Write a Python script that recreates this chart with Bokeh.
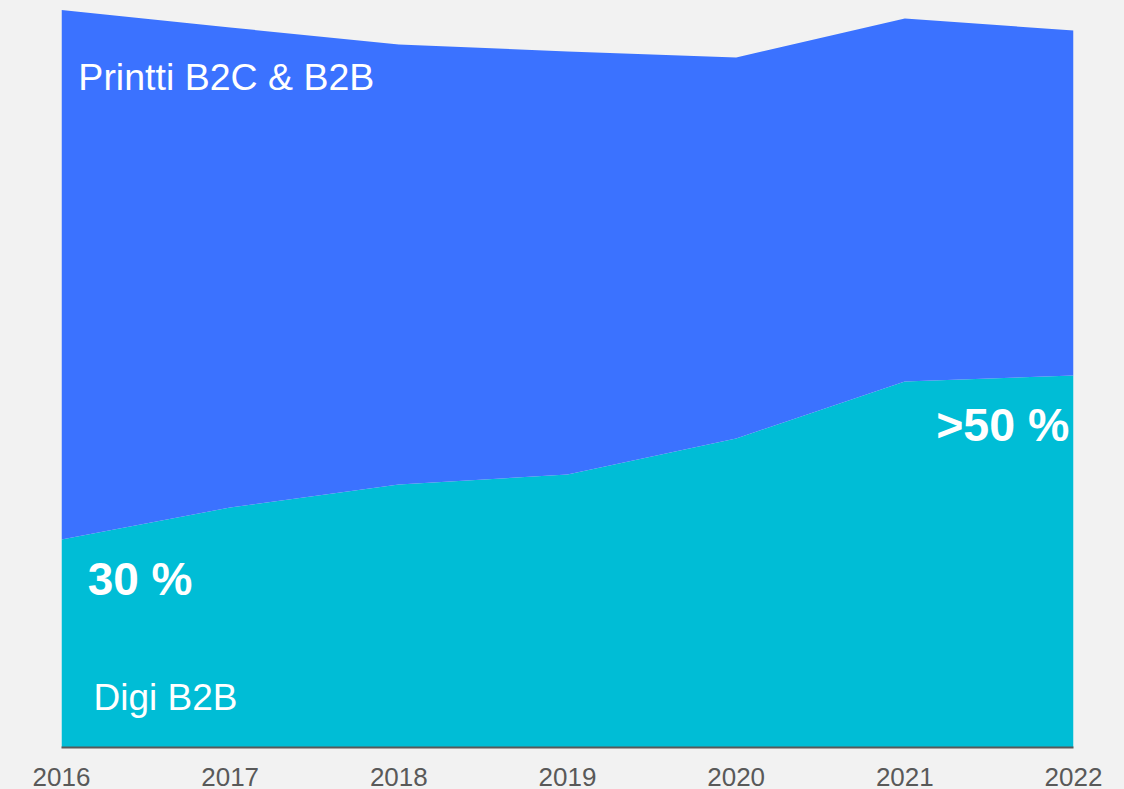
from bokeh.plotting import figure
from bokeh.models import ColumnDataSource, FixedTicker, Label, Range1d
from bokeh.embed import file_html
from bokeh.resources import INLINE

# Data (arbitrary units)
years = [2016, 2017, 2018, 2019, 2020, 2021, 2022]
digi_b2b = [208, 240, 263, 273, 309, 366, 372]
printti = [529.5, 480, 440, 423, 381, 363, 345]
tick_labels = [str(y) for y in years]

BG = "#f2f2f2"
BLUE = "#3b72ff"
TEAL = "#00bdd6"

src = ColumnDataSource(dict(year=years, digi=digi_b2b, printti=printti))

p = figure(frame_width=1012, frame_height=747, output_backend="svg", toolbar_location=None,
           x_range=Range1d(2016, 2022), y_range=Range1d(0, 747),
           min_border_left=61, min_border_right=51, min_border_top=0, min_border_bottom=42)
p.varea_stack(stackers=["digi", "printti"], x="year", color=[TEAL, BLUE], source=src)

p.background_fill_color = BG
p.border_fill_color = BG
p.outline_line_color = None
p.grid.visible = False
p.yaxis.visible = False

ax = p.xaxis[0]
ax.ticker = FixedTicker(ticks=years)
ax.major_label_overrides = {y: l for y, l in zip(years, tick_labels)}
ax.axis_line_color = "#595959"
ax.axis_line_width = 2
ax.major_tick_line_color = None
ax.minor_tick_line_color = None
ax.major_label_text_font = "Liberation Sans"
ax.major_label_text_font_size = "26px"
ax.major_label_text_color = "#595959"
ax.major_label_standoff = 14

p.add_layout(Label(x=2016.10, y=671, text="Printti B2C & B2B", text_font="Liberation Sans",
                   text_font_size="37.5px", text_color="white", text_baseline="alphabetic"))
p.add_layout(Label(x=2016.19, y=50, text="Digi B2B", text_font="Liberation Sans",
                   text_font_size="37px", text_color="white", text_baseline="alphabetic"))
p.add_layout(Label(x=2016.155, y=169, text="30 %", text_font="Liberation Sans",
                   text_font_size="46px", text_font_style="bold", text_color="white",
                   text_baseline="alphabetic"))
p.add_layout(Label(x=2021.975, y=323, text=">50 %", text_font="Liberation Sans",
                   text_font_size="46.5px", text_font_style="bold", text_color="white",
                   text_baseline="alphabetic", text_align="right"))

html = file_html(p, INLINE)
html = html.replace("</head>", "<style>html,body{background:#f2f2f2;overflow:hidden;}</style></head>")
open("out.html", "w").write(html)
